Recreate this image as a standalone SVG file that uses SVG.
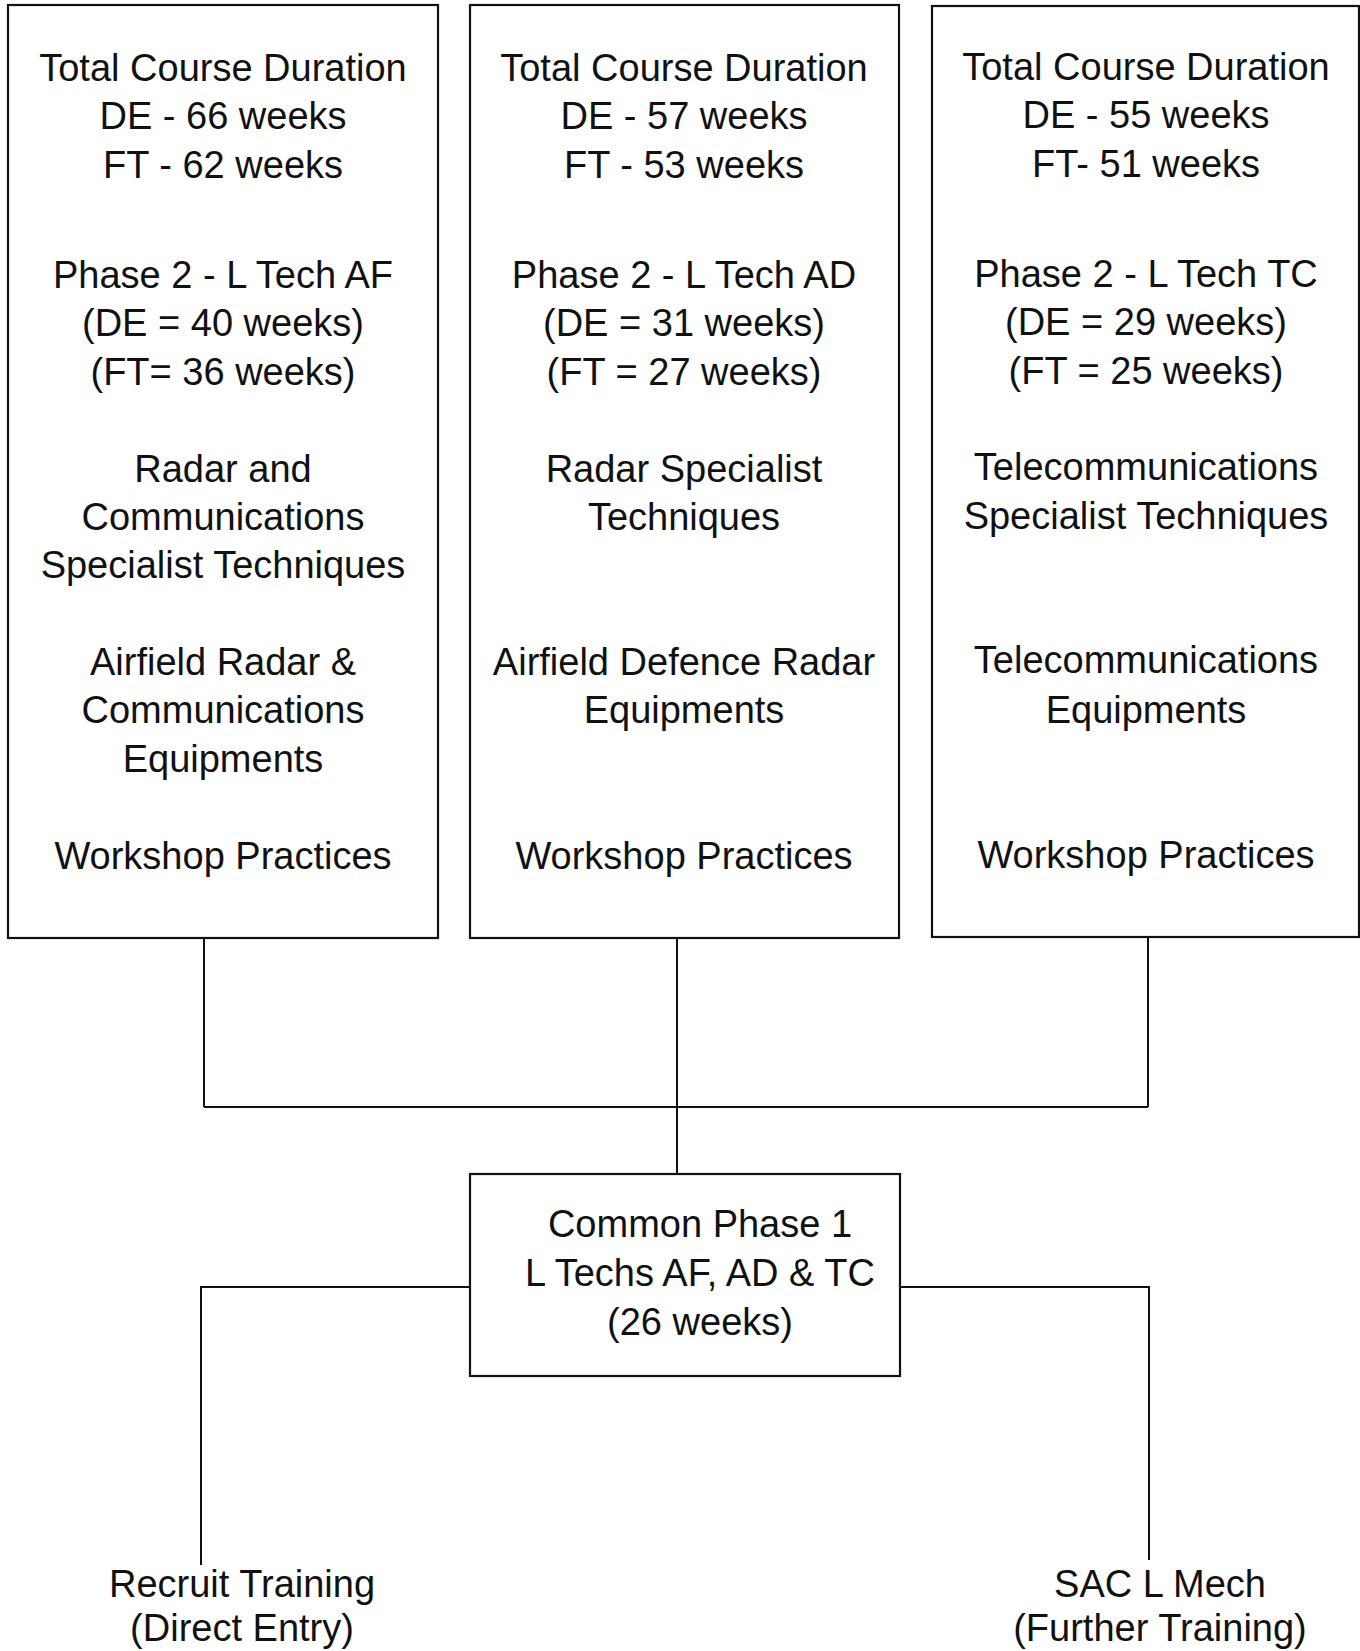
<svg xmlns="http://www.w3.org/2000/svg" width="1360" height="1651" viewBox="0 0 1360 1651">
<style>
.box{fill:#fff;stroke:#111;stroke-width:2.2}
.t{font-family:"Liberation Sans",Arial,sans-serif;font-size:38px;fill:#111;text-anchor:middle}
.c{fill:none;stroke:#111;stroke-width:2}
</style>
<rect width="1360" height="1651" fill="#fff"/>
<g id="connectors">
<path class="c" d="M204 938V1107M677 938V1174M1148 937V1107M204 1107H1148"/>
<path class="c" d="M470 1287H201V1565"/>
<path class="c" d="M900 1287H1149V1560"/>
</g>
<g id="af">
<rect class="box" x="8" y="5" width="430" height="933"/>
<text class="t" x="223" y="81">Total Course Duration</text>
<text class="t" x="223" y="129">DE - 66 weeks</text>
<text class="t" x="223" y="178">FT - 62 weeks</text>
<text class="t" x="223" y="288">Phase 2 - L Tech AF</text>
<text class="t" x="223" y="336">(DE = 40 weeks)</text>
<text class="t" x="223" y="385">(FT= 36 weeks)</text>
<text class="t" x="223" y="482">Radar and</text>
<text class="t" x="223" y="530">Communications</text>
<text class="t" x="223" y="578">Specialist Techniques</text>
<text class="t" x="223" y="675">Airfield Radar &amp;</text>
<text class="t" x="223" y="723">Communications</text>
<text class="t" x="223" y="772">Equipments</text>
<text class="t" x="223" y="869">Workshop Practices</text>
</g>
<g id="ad">
<rect class="box" x="470" y="5" width="429" height="933"/>
<text class="t" x="684" y="81">Total Course Duration</text>
<text class="t" x="684" y="129">DE - 57 weeks</text>
<text class="t" x="684" y="178">FT - 53 weeks</text>
<text class="t" x="684" y="288">Phase 2 - L Tech AD</text>
<text class="t" x="684" y="336">(DE = 31 weeks)</text>
<text class="t" x="684" y="385">(FT = 27 weeks)</text>
<text class="t" x="684" y="482">Radar Specialist</text>
<text class="t" x="684" y="530">Techniques</text>
<text class="t" x="684" y="675">Airfield Defence Radar</text>
<text class="t" x="684" y="723">Equipments</text>
<text class="t" x="684" y="869">Workshop Practices</text>
</g>
<g id="tc">
<rect class="box" x="932" y="6" width="427" height="931"/>
<text class="t" x="1146" y="80">Total Course Duration</text>
<text class="t" x="1146" y="128">DE - 55 weeks</text>
<text class="t" x="1146" y="177">FT- 51 weeks</text>
<text class="t" x="1146" y="287">Phase 2 - L Tech TC</text>
<text class="t" x="1146" y="335">(DE = 29 weeks)</text>
<text class="t" x="1146" y="384">(FT = 25 weeks)</text>
<text class="t" x="1146" y="480">Telecommunications</text>
<text class="t" x="1146" y="529">Specialist Techniques</text>
<text class="t" x="1146" y="673">Telecommunications</text>
<text class="t" x="1146" y="723">Equipments</text>
<text class="t" x="1146" y="868">Workshop Practices</text>
</g>
<g id="common">
<rect class="box" x="470" y="1174" width="430" height="202"/>
<text class="t" x="700" y="1237">Common Phase 1</text>
<text class="t" x="700" y="1286">L Techs AF, AD &amp; TC</text>
<text class="t" x="700" y="1335">(26 weeks)</text>
</g>
<g id="recruit">
<text class="t" x="242" y="1597">Recruit Training</text>
<text class="t" x="242" y="1641">(Direct Entry)</text>
</g>
<g id="sac">
<text class="t" x="1160" y="1597">SAC L Mech</text>
<text class="t" x="1160" y="1641">(Further Training)</text>
</g>
</svg>
